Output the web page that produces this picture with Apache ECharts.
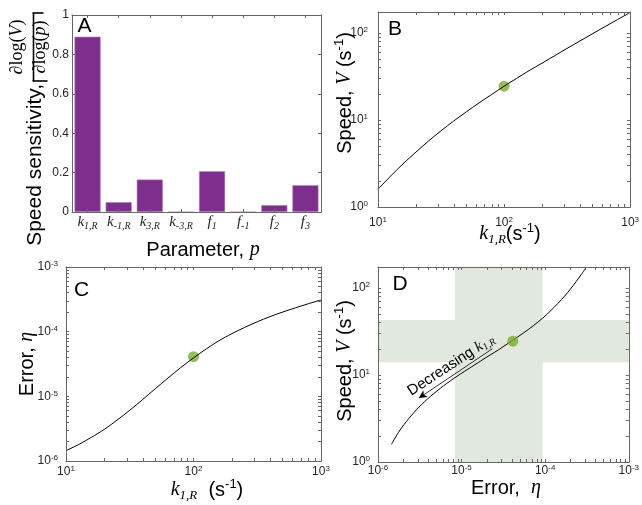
<!DOCTYPE html>
<html>
<head>
<meta charset="utf-8">
<script src="https://cdn.jsdelivr.net/npm/echarts@6/dist/echarts.min.js"></script>
<style>
html, body { margin: 0; padding: 0; background: #fff; }
#main { width: 642px; height: 505px; }
</style>
</head>
<body>
<div id="main"></div>
<script>
// panel A: speed sensitivity for each parameter ("symbol|subscript")
var paramNames = ['k|1,R', 'k|-1,R', 'k|3,R', 'k|-3,R', 'f|1', 'f|-1', 'f|2', 'f|3'];
var sensitivity = [0.89, 0.05, 0.165, 0, 0.207, 0, 0.035, 0.136];

// panels B-D: sweep over k1,R (s^-1)
var k1R = [10, 12.6, 15.8, 20, 25.1, 31.6, 39.8, 50.1, 63.1, 79.4, 100,
           126, 158, 200, 251, 316, 398, 501, 631, 794, 1000];
var speed = [1.60, 2.27, 3.14, 4.28, 5.72, 7.52, 9.73, 12.4, 15.7, 19.6, 24.5,
             30.2, 37.0, 45.1, 54.8, 66.7, 80.9, 98.0, 118.6, 143, 173];
var error = [1.45e-6, 1.80e-6, 2.32e-6, 3.09e-6, 4.27e-6, 6.08e-6, 8.87e-6, 1.31e-5, 1.92e-5, 2.78e-5, 3.93e-5,
             5.42e-5, 7.23e-5, 9.31e-5, 1.16e-4, 1.42e-4, 1.71e-4, 2.01e-4, 2.34e-4, 2.70e-4, 3.09e-4];

// operating point (green dot)
var opK = [100];
var opSpeed = [24.5];
var opError = [4.1e-5];

// target ranges shaded in D
var errorBand = [8.3e-6, 9.3e-5];
var speedBand = [14, 43];

// decade tick labels
var kTicks = [10, 100, 1000];
var speedTicks = [1, 10, 100];
var errorTicks = [1e-6, 1e-5, 1e-4, 1e-3];

var SANS = '"Liberation Sans", Arial, sans-serif';
var SERIF = '"Liberation Serif", "Times New Roman", serif';
var frameColor = '#666';
var tickColor = '#262626';
var green = '#77AC30';
var purple = '#7E2F8E';

function logTicks(lo, hi) {
    var out = [];
    for (var e = Math.floor(Math.log10(lo)); e <= Math.ceil(Math.log10(hi)); e++) {
        for (var m = 1; m < 10; m++) {
            var v = Number(m + 'e' + e);
            if (v >= lo * 0.999 && v <= hi * 1.001) out.push(v);
        }
    }
    return out;
}

var powRich = {
    b: { fontSize: 12, fontFamily: SANS, color: tickColor, lineHeight: 14 },
    e: { fontSize: 8, fontFamily: SANS, color: tickColor, lineHeight: 6.5, verticalAlign: 'top' }
};

function powLabel(v) {
    return '{b|10}{e|' + Math.round(Math.log10(v)) + '}';
}

function logAxis(grid, pos, min, max, decades, margin) {
    return {
        type: 'log', gridIndex: grid, position: pos, min: min, max: max, logBase: 10, z: 5,
        axisLine: { show: true, onZero: false, lineStyle: { color: frameColor, width: 1 } },
        axisTick: { show: true, inside: true, length: 3, customValues: logTicks(min, max),
                    lineStyle: { color: frameColor, width: 1 } },
        axisLabel: { show: margin != null, customValues: decades, formatter: powLabel,
                     margin: margin || 0, rich: powRich },
        splitLine: { show: false }
    };
}

var catRich = {
    v: { fontSize: 15, fontFamily: SERIF, fontStyle: 'italic', color: tickColor, lineHeight: 18 },
    s: { fontSize: 10, fontFamily: SERIF, fontStyle: 'italic', color: tickColor, lineHeight: 6, verticalAlign: 'bottom' }
};

function catAxis(pos, labels) {
    return {
        type: 'category', gridIndex: 0, position: pos, data: paramNames, z: 5,
        axisLine: { show: true, onZero: false, lineStyle: { color: frameColor, width: 1 } },
        axisTick: { show: true, inside: true, length: 3, alignWithLabel: true, interval: 0,
                    lineStyle: { color: frameColor } },
        axisLabel: { show: labels, interval: 0, margin: 1, rich: catRich,
                     formatter: function (v) {
                         var p = v.split('|');
                         return '{v|' + p[0] + '}{s|' + p[1] + '}';
                     } }
    };
}

function sensAxis(pos, labels) {
    return {
        type: 'value', gridIndex: 0, position: pos, min: 0, max: 1, interval: 0.2, z: 5,
        axisLine: { show: true, onZero: false, lineStyle: { color: frameColor, width: 1 } },
        axisTick: { show: true, inside: true, length: 3, lineStyle: { color: frameColor } },
        axisLabel: { show: labels, margin: 3, fontSize: 12, fontFamily: SANS, color: tickColor,
                     formatter: function (v) { return String(Math.round(v * 10) / 10); } },
        splitLine: { show: false }
    };
}

// rich styles for free text (graphic uses fill)
var nameRich = {
    a: { fontSize: 20, fontFamily: SANS, lineHeight: 24, fill: '#000' },
    i: { fontSize: 20, fontFamily: SERIF, fontStyle: 'italic', lineHeight: 24, fill: '#000' },
    s: { fontSize: 13, fontFamily: SERIF, fontStyle: 'italic', lineHeight: 5, verticalAlign: 'bottom', fill: '#000' },
    e: { fontSize: 13, fontFamily: SANS, lineHeight: 12, verticalAlign: 'top', fill: '#000' }
};
var fracRich = {
    d: { fontSize: 18, fontFamily: SERIF, fontStyle: 'italic', fill: '#000' },
    u: { fontSize: 18, fontFamily: SERIF, fill: '#000' },
    i: { fontSize: 18, fontFamily: SERIF, fontStyle: 'italic', fill: '#000' }
};
var noteRich = {
    a: { fontSize: 15, fontFamily: SANS, lineHeight: 18, fill: '#000' },
    i: { fontSize: 15, fontFamily: SERIF, fontStyle: 'italic', lineHeight: 18, fill: '#000' },
    s: { fontSize: 10, fontFamily: SERIF, fontStyle: 'italic', lineHeight: 5, verticalAlign: 'bottom', fill: '#000' }
};

function txt(x, y, text, rich, rot, font, align) {
    return {
        type: 'text', x: x, y: y, rotation: rot || 0, z: 100,
        style: {
            text: text, x: 0, y: 0, rich: rich, fill: '#000',
            font: font || ('20px ' + SANS),
            align: align || 'center', verticalAlign: 'middle',
            textAlign: align || 'center', textVerticalAlign: 'middle'
        }
    };
}

function seg(x1, y1, x2, y2, w) {
    return { type: 'line', shape: { x1: x1, y1: y1, x2: x2, y2: y2 },
             style: { stroke: '#000', lineWidth: w || 1.5 } };
}

var pairs = function (xs, ys) { return xs.map(function (x, i) { return [x, ys[i]]; }); };

var chart = echarts.init(document.getElementById('main'));
chart.setOption({
    animation: false,
    backgroundColor: '#fff',
    grid: [
        { left: 72, top: 15, width: 249, height: 197 },
        { left: 378, top: 12, width: 255, height: 195 },
        { left: 66, top: 267, width: 255, height: 194 },
        { left: 378, top: 267, width: 255, height: 195 }
    ],
    xAxis: [
        catAxis('bottom', true),
        catAxis('top', false),
        logAxis(1, 'bottom', 10, 1000, kTicks, 9),
        logAxis(1, 'top', 10, 1000, kTicks, null),
        logAxis(2, 'bottom', 10, 1000, kTicks, 4),
        logAxis(2, 'top', 10, 1000, kTicks, null),
        logAxis(3, 'bottom', 1e-6, 1e-3, errorTicks, 2),
        logAxis(3, 'top', 1e-6, 1e-3, errorTicks, null)
    ],
    yAxis: [
        sensAxis('left', true),
        sensAxis('right', false),
        logAxis(1, 'left', 1, 175, speedTicks, 10),
        logAxis(1, 'right', 1, 175, speedTicks, null),
        logAxis(2, 'left', 1e-6, 1e-3, errorTicks, 8),
        logAxis(2, 'right', 1e-6, 1e-3, errorTicks, null),
        logAxis(3, 'left', 1, 175, speedTicks, 8),
        logAxis(3, 'right', 1, 175, speedTicks, null)
    ],
    series: [
        {
            name: 'Sensitivity', type: 'bar', xAxisIndex: 0, yAxisIndex: 0,
            data: sensitivity, barWidth: '84%',
            itemStyle: { color: purple, borderColor: '#B58DBD', borderWidth: 0.6 }
        },
        {
            name: 'Speed', type: 'line', xAxisIndex: 2, yAxisIndex: 2,
            data: pairs(k1R, speed), showSymbol: false, smooth: 0.3,
            lineStyle: { color: '#000', width: 1 }
        },
        {
            name: 'Speed point', type: 'scatter', xAxisIndex: 2, yAxisIndex: 2,
            data: pairs(opK, opSpeed), symbolSize: 11, itemStyle: { color: green }
        },
        {
            name: 'Error', type: 'line', xAxisIndex: 4, yAxisIndex: 4,
            data: pairs(k1R, error), showSymbol: false, smooth: 0.3,
            lineStyle: { color: '#000', width: 1 }
        },
        {
            name: 'Error point', type: 'scatter', xAxisIndex: 4, yAxisIndex: 4,
            data: pairs(opK, opError), symbolSize: 11, itemStyle: { color: green }
        },
        {
            name: 'Target', type: 'line', xAxisIndex: 6, yAxisIndex: 6, data: [], z: 1,
            markArea: {
                silent: true,
                itemStyle: { color: '#E1E8DD' },
                data: [
                    [{ xAxis: errorBand[0], yAxis: 1 }, { xAxis: errorBand[1], yAxis: 175 }],
                    [{ xAxis: 1e-6, yAxis: speedBand[0] }, { xAxis: 1e-3, yAxis: speedBand[1] }]
                ]
            }
        },
        {
            name: 'Tradeoff', type: 'line', xAxisIndex: 6, yAxisIndex: 6, z: 3,
            data: pairs(error, speed), showSymbol: false, smooth: 0.3,
            lineStyle: { color: '#000', width: 1 },
            markLine: {
                silent: true, label: { show: false },
                lineStyle: { color: '#000', width: 0.8, type: 'solid' },
                symbolSize: [6, 8],
                data: [[
                    { coord: [2.34e-5, 20.1], symbol: 'none' },
                    { coord: [3.08e-6, 5.43], symbol: 'arrow' }
                ]]
            }
        },
        {
            name: 'Tradeoff point', type: 'scatter', xAxisIndex: 6, yAxisIndex: 6, z: 4,
            data: pairs(opError, opSpeed), symbolSize: 11, itemStyle: { color: green }
        }
    ],
    graphic: [
        // panel letters
        txt(84.5, 26, 'A', null, 0, '21px ' + SANS),
        txt(395, 29, 'B', null, 0, '21px ' + SANS),
        txt(81.5, 290, 'C', null, 0, '21px ' + SANS),
        txt(400, 284, 'D', null, 0, '21px ' + SANS),
        // axis names
        txt(203, 250, '{a|Parameter, }{i|p}', nameRich),
        txt(510, 234, '{i|k}{s|1,R}{a|(s}{e|-1}{a|)}', nameRich),
        txt(207, 490, '{i|k}{s|1,R}{a|  (s}{e|-1}{a|)}', nameRich),
        txt(506, 488, '{a|Error,  }{i|η}', nameRich),
        txt(345, 93, '{a|Speed, }{i|V}{a| (s}{e|-1}{a|)}', nameRich, Math.PI / 2),
        txt(345, 361, '{a|Speed, }{i|V}{a| (s}{e|-1}{a|)}', nameRich, Math.PI / 2),
        txt(27, 364, '{a|Error, }{i|η}', nameRich, Math.PI / 2),
        // y name of A with the fraction
        {
            type: 'group', x: 33.5, y: 255, rotation: Math.PI / 2,
            children: [
                txt(171, 2.2, 'Speed sensitivity,', null, 0, '21px ' + SANS, 'right'),
                seg(174, 0, 242, 0, 1.6),
                seg(174, -1, 174, 14, 1.6),
                seg(242, -1, 242, 10, 1.6),
                txt(208, -16.6, '{d|∂}{u|log(}{i|V}{u|)}', fracRich),
                txt(208, 6.4, '{d|∂}{u|log(}{i|p}{u|)}', fracRich)
            ]
        },
        // annotation in D
        txt(451, 365, '{a|Decreasing }{i|k}{s|1,R}', noteRich, 0.58)
    ]
});
</script>
</body>
</html>
